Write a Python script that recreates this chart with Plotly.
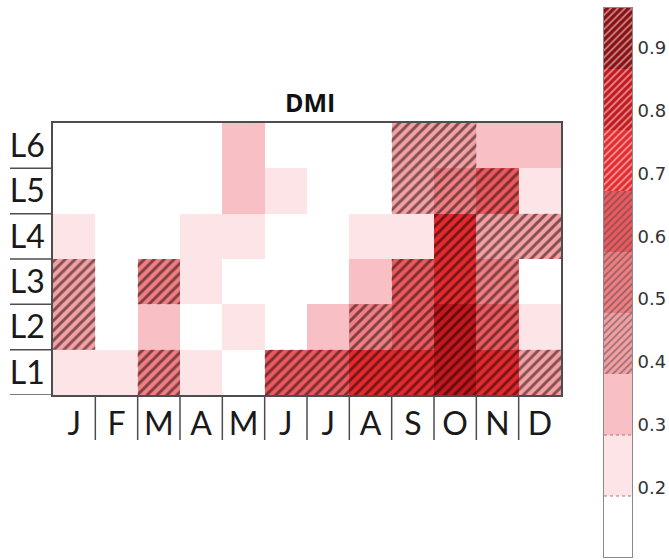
import plotly.graph_objects as go

# Months (columns) and levels (rows, bottom to top)
months = ["J", "F", "M", "A", "M", "J", "J", "A", "S", "O", "N", "D"]
levels = ["L1", "L2", "L3", "L4", "L5", "L6"]

# Values per level, January..December
L1 = [0.24, 0.24, 0.53, 0.23, 0.14, 0.61, 0.64, 0.70, 0.74, 0.80, 0.73, 0.44]
L2 = [0.42, 0.15, 0.33, 0.13, 0.25, 0.16, 0.33, 0.52, 0.63, 0.84, 0.64, 0.24]
L3 = [0.43, 0.14, 0.50, 0.23, 0.15, 0.12, 0.15, 0.34, 0.65, 0.75, 0.55, 0.16]
L4 = [0.22, 0.14, 0.15, 0.22, 0.23, 0.13, 0.15, 0.24, 0.24, 0.72, 0.46, 0.44]
L5 = [0.13, 0.14, 0.15, 0.13, 0.34, 0.22, 0.15, 0.14, 0.42, 0.53, 0.66, 0.22]
L6 = [0.13, 0.14, 0.15, 0.13, 0.33, 0.15, 0.14, 0.14, 0.40, 0.47, 0.33, 0.32]
z_rows = [L1, L2, L3, L4, L5, L6]

# Discrete colour classes
class_edges = [0.09, 0.187, 0.284, 0.381, 0.478, 0.575, 0.672, 0.769, 0.866, 0.963]
class_colors = ["#ffffff", "#fde4e7", "#f8c0c4", "#f4a0a4", "#f07e82",
                "#ec5a5f", "#e52a2f", "#c3181d", "#8a0f12"]
hatch_threshold = 0.381
cbar_ticks = [0.2, 0.3, 0.4, 0.5, 0.6, 0.7, 0.8, 0.9]

zmin, zmax = class_edges[0], class_edges[-1]
colorscale = []
for i, c in enumerate(class_colors):
    colorscale.append([(class_edges[i] - zmin) / (zmax - zmin), c])
    colorscale.append([(class_edges[i + 1] - zmin) / (zmax - zmin), c])

W, H = 669, 560
px_x = lambda p: p / W
px_y = lambda p: 1 - p / H

plot_l, plot_r, plot_t, plot_b = 53, 561, 123, 395

fig = go.Figure()

fig.add_trace(go.Heatmap(
    z=z_rows, x=list(range(12)), y=list(range(6)),
    colorscale=colorscale, zmin=zmin, zmax=zmax, showscale=False,
    hoverinfo="skip",
))

# Hatching over cells above the threshold
hx, hbase = [], []
for r, row in enumerate(z_rows):
    for c, v in enumerate(row):
        if v >= hatch_threshold:
            hx.append(c)
            hbase.append(r - 0.5)
fig.add_trace(go.Bar(
    x=hx, y=[1] * len(hx), base=hbase, width=1,
    marker=dict(color="rgba(0,0,0,0)", line=dict(width=0),
                pattern=dict(shape="/", fgcolor="#0a0000", size=7,
                             solidity=0.42, fillmode="overlay")),
    hoverinfo="skip", showlegend=False,
))

# Colour bar built from stacked class bars
fig.add_trace(go.Bar(
    x=[0] * len(class_colors),
    y=[class_edges[i + 1] - class_edges[i] for i in range(len(class_colors))],
    base=class_edges[:-1], width=1,
    marker=dict(color=class_colors, line=dict(width=0),
                pattern=dict(shape=["/" if e >= hatch_threshold else ""
                                    for e in class_edges[:-1]],
                             fgcolor="#1a0303", size=5, solidity=0.35,
                             fillmode="overlay")),
    xaxis="x2", yaxis="y2", hoverinfo="skip", showlegend=False,
))

label_font = dict(family="Lato", size=32, color="#1a1a1a")

fig.update_layout(
    width=W, height=H, margin=dict(l=0, r=0, t=0, b=0),
    paper_bgcolor="white", plot_bgcolor="white",
    barmode="overlay", showlegend=False,
    xaxis=dict(domain=[px_x(plot_l), px_x(plot_r)], range=[-0.5, 11.5],
               tickvals=list(range(12)), ticktext=months, ticks="",
               tickfont=label_font, showgrid=False, zeroline=False,
               showline=True, mirror=True, linecolor="#4d4d4d", linewidth=1.5,
               ticklabelstandoff=0),
    yaxis=dict(domain=[px_y(plot_b), px_y(plot_t)], range=[-0.5, 5.5],
               tickvals=list(range(6)), ticktext=levels, ticks="",
               tickfont=label_font, showgrid=False, zeroline=False,
               showline=True, mirror=True, linecolor="#4d4d4d", linewidth=1.5,
               ticklabelstandoff=0),
    xaxis2=dict(domain=[px_x(604), px_x(632)], range=[-0.5, 0.5], anchor="y2",
                showticklabels=False, ticks="", showgrid=False, zeroline=False,
                showline=True, mirror=True, linecolor="#8a8a8a", linewidth=1),
    yaxis2=dict(domain=[px_y(557), px_y(8)], range=[zmin, zmax], anchor="x2",
                side="right", tickvals=cbar_ticks,
                ticktext=[f"{t:.1f}" for t in cbar_ticks], ticks="",
                tickfont=dict(family="DejaVu Sans", size=18, color="#333333"),
                showgrid=False, zeroline=False,
                showline=True, mirror=True, linecolor="#8a8a8a", linewidth=1,
                ticklabelstandoff=1),
)

# Title
fig.add_annotation(text="<b>DMI</b>", x=px_x(310),
                   y=px_y(102), xref="paper", yref="paper", showarrow=False,
                   xanchor="center", yanchor="middle",
                   font=dict(family="Open Sans", size=25, color="#111111"))

# Column separators under the axis
for i in range(11):
    fig.add_shape(type="line", xref="x", yref="paper",
                  x0=i + 0.5, x1=i + 0.5, y0=px_y(plot_b), y1=px_y(440),
                  line=dict(color="#4d4d4d", width=1.5))

# Row separators left of the axis
for j in range(6):
    fig.add_shape(type="line", xref="paper", yref="y",
                  x0=px_x(10), x1=px_x(plot_l), y0=j - 0.5, y1=j - 0.5,
                  line=dict(color="#4d4d4d", width=1.5))

# Dotted borders between the lightest classes of the colour bar
for e in class_edges[1:3]:
    fig.add_shape(type="line", xref="x2", yref="y2",
                  x0=-0.5, x1=0.5, y0=e, y1=e,
                  line=dict(color="#b07078", width=1, dash="dot"))

fig.write_html("out.html")
